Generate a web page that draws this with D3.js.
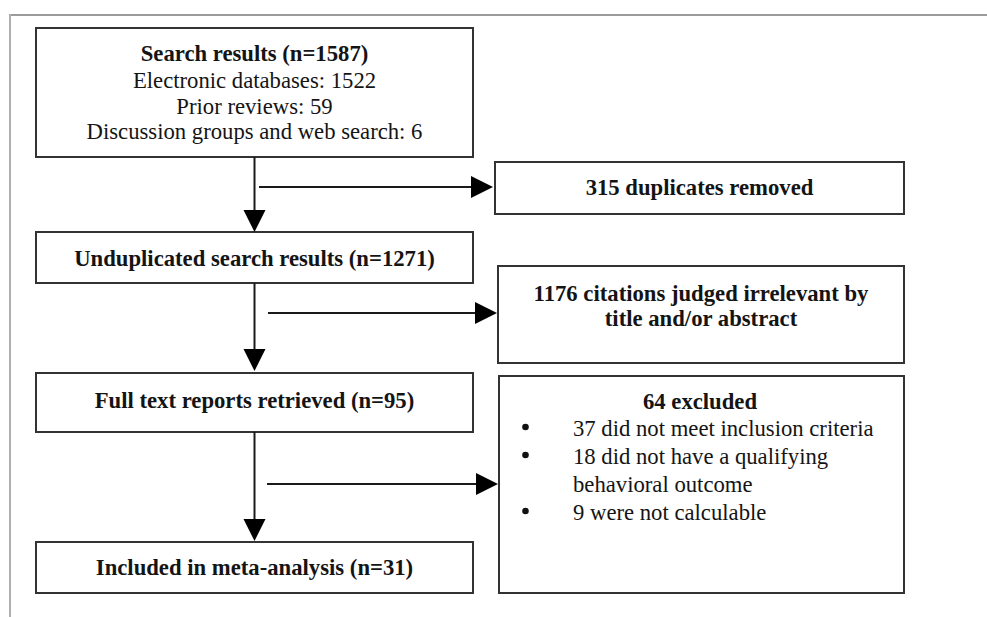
<!DOCTYPE html>
<html>
<head>
<meta charset="utf-8">
<script src="https://cdn.jsdelivr.net/npm/d3@7"></script>
<style>
  html, body { margin: 0; padding: 0; background: #fff; }
  svg text { font-family: "Liberation Serif", "Times New Roman", serif; fill: #141414; }
</style>
</head>
<body>
<svg id="chart" width="987" height="617"></svg>
<script>
// ---- data (texts and counts) ----
const searchTitle = "Search results (n=1587)";
const searchSources = ["Electronic databases: 1522", "Prior reviews: 59", "Discussion groups and web search: 6"];
const mainSteps = ["Unduplicated search results (n=1271)", "Full text reports retrieved (n=95)", "Included in meta-analysis (n=31)"];
const sideTitles = [["315 duplicates removed"], ["1176 citations judged irrelevant by", "title and/or abstract"], ["64 excluded"]];
const exclusionReasons = [["37 did not meet inclusion criteria"], ["18 did not have a qualifying", "behavioral outcome"], ["9 were not calculable"]];

// ---- layout ----
const svg = d3.select("#chart");
const FS = 22.7;
const mainX0 = 36, mainX1 = 473, cx = (mainX0 + mainX1) / 2;
const mainRects = [[28, 157], [232, 283], [373, 432], [542, 593]];
const sideRects = [[495, 162, 214], [498, 266, 363], [499, 376, 593]];
const sideX1 = 904;

// outer frame
svg.append("line").attr("x1", 10).attr("y1", 15).attr("x2", 987).attr("y2", 15)
  .attr("stroke", "#7a7a7a").attr("stroke-width", 1.6);
svg.append("line").attr("x1", 10).attr("y1", 14).attr("x2", 10).attr("y2", 617)
  .attr("stroke", "#b0b0b0").attr("stroke-width", 2);

const boxStroke = "#333", boxW = 2;

// main boxes
svg.selectAll("rect.main").data(mainRects).join("rect").attr("class", "main")
  .attr("x", mainX0).attr("y", d => d[0]).attr("width", mainX1 - mainX0).attr("height", d => d[1] - d[0])
  .attr("fill", "#fff").attr("stroke", boxStroke).attr("stroke-width", boxW);

// side boxes
svg.selectAll("rect.side").data(sideRects).join("rect").attr("class", "side")
  .attr("x", d => d[0]).attr("y", d => d[1]).attr("width", d => sideX1 - d[0]).attr("height", d => d[2] - d[1])
  .attr("fill", "#fff").attr("stroke", boxStroke).attr("stroke-width", boxW);

// texts in box 1
const t1y = [53, 80, 106, 131];
svg.append("text").attr("x", cx).attr("y", t1y[0]).attr("dy", "0.35em").attr("text-anchor", "middle")
  .attr("font-size", FS).attr("font-weight", "bold").text(searchTitle);
svg.selectAll("text.src").data(searchSources).join("text").attr("class", "src")
  .attr("x", cx).attr("y", (d, i) => t1y[i + 1]).attr("dy", "0.35em").attr("text-anchor", "middle")
  .attr("font-size", FS).text(d => d);

// main step texts
const stepY = [258, 400, 567];
svg.selectAll("text.step").data(mainSteps).join("text").attr("class", "step")
  .attr("x", cx).attr("y", (d, i) => stepY[i]).attr("dy", "0.35em").attr("text-anchor", "middle")
  .attr("font-size", FS).attr("font-weight", "bold").text(d => d);

// side titles
const sideTextY = [[187], [293, 318], [401]];
const sideCx = [699.5, 701, 700];
sideTitles.forEach((lines, i) => {
  svg.selectAll(null).data(lines).join("text")
    .attr("x", sideCx[i]).attr("y", (d, j) => sideTextY[i][j]).attr("dy", "0.35em").attr("text-anchor", "middle")
    .attr("font-size", FS).attr("font-weight", "bold").text(d => d);
});

// exclusion reasons with bullets
const reasonY = [428, 456, 484, 512];
let li = 0;
exclusionReasons.forEach(lines => {
  svg.append("circle").attr("cx", 525.5).attr("cy", reasonY[li] - 1).attr("r", 3.3).attr("fill", "#111");
  lines.forEach(l => {
    svg.append("text").attr("x", 573).attr("y", reasonY[li]).attr("dy", "0.35em")
      .attr("font-size", FS).text(l);
    li++;
  });
});

// arrows
const arrowColor = "#1a1a1a";
const vArrows = [[157, 232], [283, 371], [432, 541]];
const hArrows = [[187, 259, 493], [313, 268, 497], [484, 267, 498]];
const AH = 22, AW = 11;
vArrows.forEach(([y0, y1]) => {
  svg.append("line").attr("x1", cx).attr("x2", cx).attr("y1", y0).attr("y2", y1 - AH + 2)
    .attr("stroke", arrowColor).attr("stroke-width", 2);
  svg.append("path").attr("d", d3.line()([[cx - AW, y1 - AH], [cx + AW, y1 - AH], [cx, y1]]) + "Z")
    .attr("fill", "#000");
});
hArrows.forEach(([y, x0, x1]) => {
  svg.append("line").attr("x1", x0).attr("x2", x1 - AH + 2).attr("y1", y).attr("y2", y)
    .attr("stroke", arrowColor).attr("stroke-width", 2);
  svg.append("path").attr("d", d3.line()([[x1 - AH, y - AW], [x1 - AH, y + AW], [x1, y]]) + "Z")
    .attr("fill", "#000");
});
</script>
</body>
</html>
